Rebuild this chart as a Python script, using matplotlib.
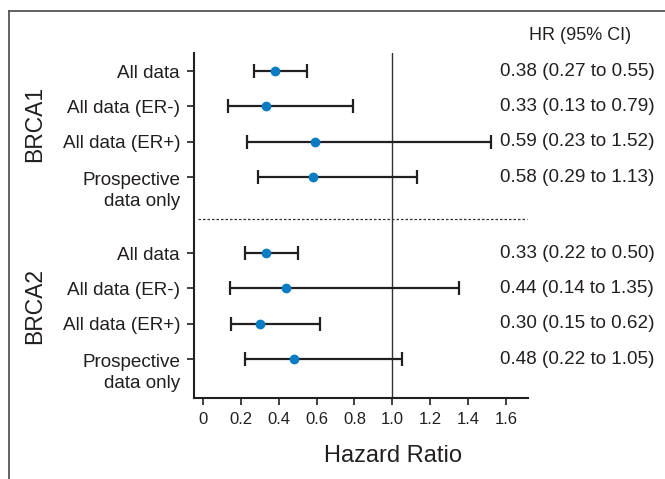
import matplotlib
matplotlib.use('Agg')
import matplotlib.pyplot as plt
import matplotlib.transforms as mtransforms
from matplotlib import font_manager
from matplotlib.lines import Line2D

plt.rcParams['font.family'] = ['Liberation Sans', 'DejaVu Sans']

# data
groups = ['BRCA1', 'BRCA2']
row_labels = ['All data', 'All data (ER-)', 'All data (ER+)', 'Prospective\ndata only']
brca1_hr = [0.38, 0.33, 0.59, 0.58]
brca1_lo = [0.27, 0.13, 0.23, 0.29]
brca1_hi = [0.55, 0.79, 1.52, 1.13]
brca2_hr = [0.33, 0.44, 0.30, 0.48]
brca2_lo = [0.22, 0.14, 0.15, 0.22]
brca2_hi = [0.50, 1.35, 0.62, 1.05]
xticks = [0, 0.2, 0.4, 0.6, 0.8, 1.0, 1.2, 1.4, 1.6]
xtick_labels = ['0', '0.2', '0.4', '0.6', '0.8', '1.0', '1.2', '1.4', '1.6']

# condensed face for the group labels if there is one
installed = {f.name for f in font_manager.fontManager.ttflist}
if 'Liberation Sans Narrow' in installed:
    group_font, group_size = 'Liberation Sans Narrow', 18.5
else:
    group_font, group_size = 'Liberation Sans', 16.5

fig = plt.figure(figsize=(6.65, 4.79), dpi=100)
ax = fig.add_axes([0.2917, 0.1691, 0.794 - 0.2917, 0.8894 - 0.1691])

gap = 2.15
pos1 = [0, 1, 2, 3]
pos2 = [3 + gap + i for i in range(4)]
blue = '#0a7cc4'
ink = '#231f20'

for pos, hr, lo, hi in [(pos1, brca1_hr, brca1_lo, brca1_hi),
                        (pos2, brca2_hr, brca2_lo, brca2_hi)]:
    err = [[h - l for h, l in zip(hr, lo)], [u - h for h, u in zip(hr, hi)]]
    ax.errorbar(hr, pos, xerr=err, fmt='none', ecolor=ink,
                elinewidth=1.6, capsize=5, capthick=1.6, zorder=2)
    ax.plot(hr, pos, 'o', color=blue, markersize=6, zorder=3)

ax.axvline(1.0, color='#333333', linewidth=1.0, zorder=1)
ax.plot([-0.025, 1.71], [3 + 1.19, 3 + 1.19], color='#333333',
        linewidth=0.9, linestyle=(0, (2, 1.6)), zorder=1)

ax.set_xlim(-0.048, 1.717)
ax.set_ylim(3 + gap + 3 + 1.1, -0.51)

ax.spines['top'].set_visible(False)
ax.spines['right'].set_visible(False)
for s in ['left', 'bottom']:
    ax.spines[s].set_linewidth(1.5)
    ax.spines[s].set_color(ink)

ax.set_xticks(xticks)
ax.set_xticklabels(xtick_labels, fontsize=12, color=ink)
ax.set_yticks(pos1 + pos2)
ax.set_yticklabels(row_labels * 2, fontsize=13.6, color=ink)
ax.tick_params(axis='both', direction='out', length=5, width=1.2, color=ink)
ax.tick_params(axis='y', pad=5)
ax.tick_params(axis='x', pad=5)

shift = mtransforms.ScaledTranslation(0, 0.055, fig.dpi_scale_trans)
for lab in ax.get_yticklabels():
    if '\n' in lab.get_text():
        lab.set_va('top')
        lab.set_linespacing(1.35)
        lab.set_transform(lab.get_transform() + shift)

# group labels
tr = mtransforms.blended_transform_factory(fig.transFigure, ax.transData)
for g, pos in zip(groups, [pos1, pos2]):
    ax.text(35 / 665, (pos[0] + pos[-1]) / 2, g, transform=tr, rotation=90,
            fontsize=group_size, ha='center', va='center', color=ink,
            family=group_font)

# HR column
fig.text(580 / 665, 1 - 35 / 479, 'HR (95% CI)', fontsize=13, ha='center',
         va='center', color=ink)
for pos, hr, lo, hi in [(pos1, brca1_hr, brca1_lo, brca1_hi),
                        (pos2, brca2_hr, brca2_lo, brca2_hi)]:
    for p, h, l, u in zip(pos, hr, lo, hi):
        ax.text(500 / 665, p, f'{h:.2f} ({l:.2f} to {u:.2f})', transform=tr,
                fontsize=13.6, ha='left', va='center', color=ink)

fig.text(393.5 / 665, 1 - 456 / 479, 'Hazard Ratio', fontsize=17,
         ha='center', va='center', color=ink)

# outer frame (left and top edges)
fig.add_artist(Line2D([9 / 665, 9 / 665], [0, 1 - 11 / 479],
                      transform=fig.transFigure, color='#555555', linewidth=1.3))
fig.add_artist(Line2D([9 / 665, 1], [1 - 11 / 479, 1 - 11 / 479],
                      transform=fig.transFigure, color='#555555', linewidth=1.3))

fig.savefig('out.png', dpi=100)
